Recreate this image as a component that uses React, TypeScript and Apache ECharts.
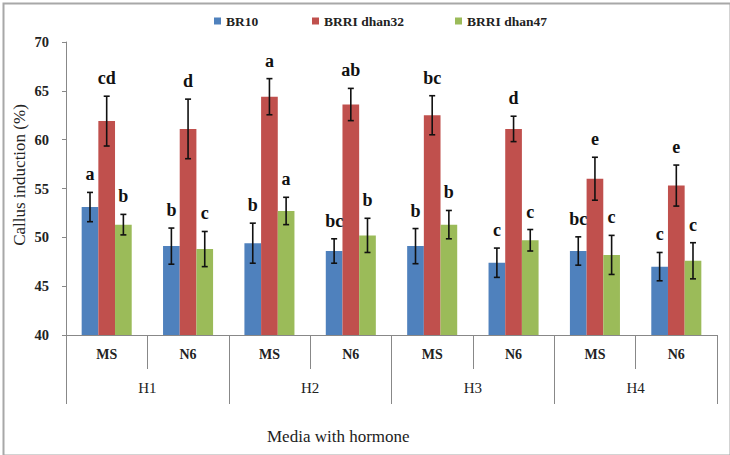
import React, { useEffect, useRef } from "react";
import * as echarts from "echarts";

const subCategories = ["MS", "N6", "MS", "N6", "MS", "N6", "MS", "N6"];
const groups = ["H1", "H2", "H3", "H4"];
const seriesNames = ["BR10", "BRRI dhan32", "BRRI dhan47"];
const colors = ["#4F81BD", "#C0504D", "#9BBB59"];

const br10 = [53.1, 49.1, 49.4, 48.6, 49.1, 47.4, 48.6, 47.0];
const dhan32 = [61.9, 61.1, 64.4, 63.6, 62.5, 61.1, 56.0, 55.3];
const dhan47 = [51.3, 48.8, 52.7, 50.2, 51.3, 49.7, 48.2, 47.6];

const br10Err = [1.5, 1.85, 2.05, 1.25, 1.8, 1.5, 1.45, 1.45];
const dhan32Err = [2.55, 3.05, 1.85, 1.65, 2.0, 1.3, 2.2, 2.1];
const dhan47Err = [1.05, 1.8, 1.4, 1.75, 1.45, 1.1, 2.0, 1.85];

const br10Letters = ["a", "b", "b", "bc", "b", "c", "bc", "c"];
const dhan32Letters = ["cd", "d", "a", "ab", "bc", "d", "e", "e"];
const dhan47Letters = ["b", "c", "a", "b", "b", "c", "c", "c"];

const values = [br10, dhan32, dhan47];
const errors = [br10Err, dhan32Err, dhan47Err];
const letters = [br10Letters, dhan32Letters, dhan47Letters];

const SERIF = "Liberation Serif";
const CAT_GAP = 0.385;
const legendLefts = [209, 307, 450];

export default function App() {
  const ref = useRef<HTMLDivElement>(null);
  useEffect(() => {
    if (!ref.current) return;
    const chart = echarts.init(ref.current, null, { renderer: "svg" });

    const barSeries = seriesNames.map((name, i) => ({
      name,
      type: "bar",
      xAxisIndex: 0,
      data: values[i],
      barGap: "0%",
      barCategoryGap: CAT_GAP * 100 + "%",
      itemStyle: { color: colors[i] },
    }));

    const errSeries = seriesNames.map((name, si) => ({
      type: "custom",
      xAxisIndex: 0,
      silent: true,
      z: 5,
      data: values[si].map((v, k) => [k, v, errors[si][k]]),
      encode: { x: 0, y: 1 },
      renderItem: (params: any, api: any) => {
        const k = api.value(0);
        const v = api.value(1);
        const e = api.value(2);
        const lt = letters[si][params.dataIndex];
        const band = api.size([1, 0])[0];
        const gw = band * (1 - CAT_GAP);
        const bw = gw / 3;
        const c = api.coord([k, v]);
        const x = c[0] - gw / 2 + bw * (si + 0.5);
        const top = api.coord([k, v + e])[1];
        const bot = api.coord([k, v - e])[1];
        const cap = 3;
        const st = { stroke: "#111", lineWidth: 1.6 };
        return {
          type: "group",
          children: [
            { type: "line", shape: { x1: x, y1: top, x2: x, y2: bot }, style: st },
            { type: "line", shape: { x1: x - cap, y1: top, x2: x + cap, y2: top }, style: st },
            { type: "line", shape: { x1: x - cap, y1: bot, x2: x + cap, y2: bot }, style: st },
            {
              type: "text",
              x,
              y: top - 9,
              style: {
                text: lt,
                fill: "#111",
                fontFamily: SERIF,
                fontWeight: "bold",
                fontSize: 18,
                align: "center",
                verticalAlign: "bottom",
              },
            },
          ],
        };
      },
    }));

    chart.setOption({
      animation: false,
      backgroundColor: "#fff",
      textStyle: { fontFamily: SERIF },
      legend: seriesNames.map((n, i) => ({
        data: [n],
        left: legendLefts[i],
        top: 9,
        icon: "rect",
        itemWidth: 7,
        itemHeight: 7,
        textStyle: { fontFamily: SERIF, fontWeight: "bold", fontSize: 13.5, color: "#222" },
      })),
      grid: { left: 66, right: 13, top: 42, bottom: 120, containLabel: false },
      xAxis: [
        {
          type: "category",
          position: "bottom",
          data: subCategories,
          axisLine: { show: true, lineStyle: { color: "#888", width: 1 } },
          axisTick: { show: true, interval: 0, length: 34, lineStyle: { color: "#888" } },
          axisLabel: {
            interval: 0,
            margin: 12,
            fontFamily: SERIF,
            fontWeight: "bold",
            fontSize: 14,
            color: "#222",
          },
        },
        {
          type: "category",
          position: "bottom",
          offset: 0,
          data: groups,
          axisLine: { show: false },
          axisTick: { show: true, interval: 0, length: 69, lineStyle: { color: "#888" } },
          axisLabel: {
            interval: 0,
            margin: 45,
            fontFamily: SERIF,
            fontSize: 15,
            color: "#222",
          },
        },
      ],
      yAxis: {
        type: "value",
        min: 40,
        max: 70,
        interval: 5,
        axisLine: { show: true, lineStyle: { color: "#888" } },
        axisTick: { show: true, length: 4, lineStyle: { color: "#888" } },
        splitLine: { show: false },
        axisLabel: {
          margin: 17,
          fontFamily: SERIF,
          fontWeight: "bold",
          fontSize: 14.5,
          color: "#222",
        },
      },
      graphic: [
        {
          type: "rect",
          left: 1,
          top: 1,
          shape: { width: 727, height: 452 },
          style: { fill: "none", stroke: "#a8a8a8", lineWidth: 2 },
          silent: true,
        },
        {
          type: "text",
          x: 19,
          y: 175,
          rotation: Math.PI / 2,
          style: {
            text: "Callus induction (%)",
            fontFamily: SERIF,
            fontSize: 17,
            fill: "#222",
            align: "center",
            verticalAlign: "middle",
          },
        },
        {
          type: "text",
          left: 267,
          top: 428,
          style: { text: "Media with hormone", fontFamily: SERIF, fontSize: 17, fill: "#222" },
        },
      ],
      series: [...barSeries, ...errSeries],
    });
    return () => chart.dispose();
  }, []);
  return (
    <div
      ref={ref}
      style={{ position: "fixed", left: 0, top: 0, width: 730, height: 455, background: "#fff" }}
    />
  );
}
